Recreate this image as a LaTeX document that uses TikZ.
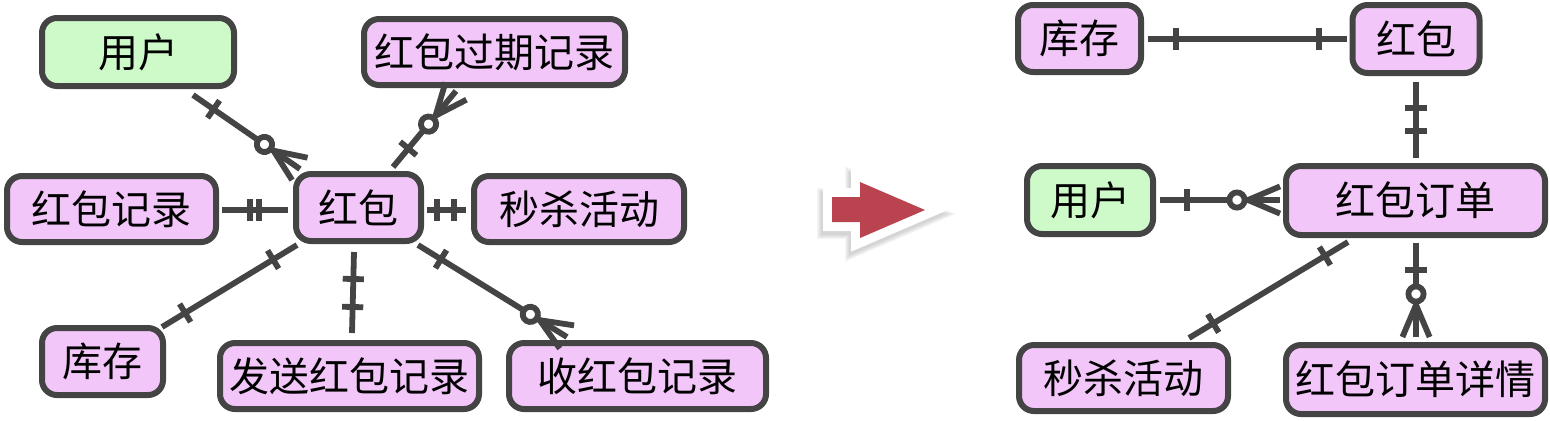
\documentclass[tikz,border=0pt]{standalone}
\usepackage{fontspec}
\setmainfont{Noto Sans CJK SC}
\usetikzlibrary{calc,decorations.markings}
\definecolor{edge}{HTML}{444444}
\definecolor{pinkfill}{HTML}{F3C6F9}
\definecolor{greenfill}{HTML}{CDFAC8}
\definecolor{arrowred}{HTML}{B9444F}
\tikzset{
  ent/.style={draw=edge, line width=3pt, rounded corners=7.5pt, fill=pinkfill, inner sep=0pt,
    font=\fontsize{20pt}{24pt}\selectfont, text=black},
  entg/.style={ent, fill=greenfill},
  conn/.style={draw=edge, line width=2.9pt},
  barat/.style={postaction={decorate, decoration={markings,
    mark=at position #1 with {\draw[conn] (0,-5.3pt) -- (0,5.3pt);}}}},
  crowend/.style={postaction={decorate, decoration={markings,
    mark=at position -21.5pt with {\draw[conn, fill=white] (0,0) circle (3.8pt);},
    mark=at position 1 with {\draw[conn] (-16pt,0) -- (0,6.8pt) (-16pt,0) -- (0,-6.8pt);}}}},
  arrowshadow/.style={black, opacity=#1, line join=miter, fill=black},
}
\begin{document}
\begin{tikzpicture}[x=0.5pt,y=-0.5pt]
\useasboundingbox (0,0) rectangle (1550,420);

% ---------- left diagram ----------
\node[entg, minimum width=96pt,    minimum height=34pt]   (lu)  at (138,52)      {用户};
\node[ent,  minimum width=130.5pt, minimum height=33pt]   (lgq) at (494.5,52)    {红包过期记录};
\node[ent,  minimum width=104.5pt, minimum height=33pt]   (ljl) at (111.5,209)   {红包记录};
\node[ent,  minimum width=62.5pt,  minimum height=33.5pt] (lhb) at (358.5,207.5) {红包};
\node[ent,  minimum width=105pt,   minimum height=33pt]   (lms) at (579,209)     {秒杀活动};
\node[ent,  minimum width=60.5pt,  minimum height=33.5pt] (lkc) at (102.5,361.5) {库存};
\node[ent,  minimum width=129.5pt, minimum height=33pt]   (lfs) at (349.5,376)   {发送红包记录};
\node[ent,  minimum width=128.5pt, minimum height=33pt]   (lsh) at (637.5,376)   {收红包记录};

\draw[conn, barat=12.5pt, crowend] ($(lu)+(55,43)$) -- ($(lhb)+(-58.5,-38.5)$);
\draw[conn, barat=12pt, crowend] ($(lhb)+(34.5,-40.5)$) -- ($(lgq)+(-38.5,39)$);
\draw[conn, barat=14.5pt, barat=19pt] ($(lhb)+(-70.5,2.5)$) -- ($(ljl)+(110.5,1)$);
\draw[conn, barat=5pt, barat=13.5pt] ($(lhb)+(68.5,2.5)$) -- ($(lms)+(-113,1)$);
\draw[conn, barat=14pt, barat=-13.5pt] ($(lhb)+(-61.5,37.5)$) -- ($(lkc)+(59.5,-34.5)$);
\draw[conn, barat=13.5pt, barat=27.5pt] ($(lhb)+(-4.5,44.5)$) -- ($(lfs)+(2.5,-43)$);
\draw[conn, barat=13.5pt, crowend] ($(lhb)+(59.5,37.5)$) -- ($(lsh)+(-70.5,-39)$);

% ---------- arrow ----------
\begin{scope}[shift={(-2,4)}]
  \foreach \w in {13pt,12pt,11pt,10pt,9pt}{
    \draw[arrowshadow=0.035, line width=\w]
      (832,197) -- (860,197) -- (860,182) -- (925,210) -- (860,238) -- (860,222) -- (832,222) -- cycle;
  }
\end{scope}
\draw[white, line width=9pt, line join=miter, fill=white]
  (832,197) -- (860,197) -- (860,182) -- (925,210) -- (860,238) -- (860,222) -- (832,222) -- cycle;
\fill[arrowred]
  (832,197) -- (860,197) -- (860,182) -- (925,210) -- (860,238) -- (860,222) -- (832,222) -- cycle;

% ---------- right diagram ----------
\node[ent,  minimum width=61.5pt,  minimum height=33.5pt] (rkc) at (1079.5,38.5) {库存};
\node[ent,  minimum width=63.5pt,  minimum height=34pt]   (rhb) at (1416,39)     {红包};
\node[entg, minimum width=63pt,    minimum height=34pt]   (ru)  at (1090,200)    {用户};
\node[ent,  minimum width=129.5pt, minimum height=34.5pt] (rdd) at (1415.5,200.5){红包订单};
\node[ent,  minimum width=104.5pt, minimum height=33pt]   (rms) at (1123.5,378)  {秒杀活动};
\node[ent,  minimum width=129.5pt, minimum height=34.5pt] (rxq) at (1415.5,379.5){红包订单详情};

\draw[conn, barat=14pt, barat=-14pt] ($(rkc)+(68.5,0.5)$) -- ($(rhb)+(-69,0)$);
\draw[conn, barat=13pt, barat=24.5pt] ($(rhb)+(0,43)$) -- ($(rdd)+(0.5,-42.5)$);
\draw[conn, barat=13.5pt, crowend] ($(ru)+(70,0)$) -- ($(rdd)+(-135.5,-0.5)$);
\draw[conn, barat=13.5pt, barat=-14pt] ($(rdd)+(-67.5,41.5)$) -- ($(rms)+(65.5,-40)$);
\draw[conn, barat=13.5pt, crowend] ($(rdd)+(0.5,42.5)$) -- ($(rxq)+(0.5,-42.5)$);
\end{tikzpicture}
\end{document}
